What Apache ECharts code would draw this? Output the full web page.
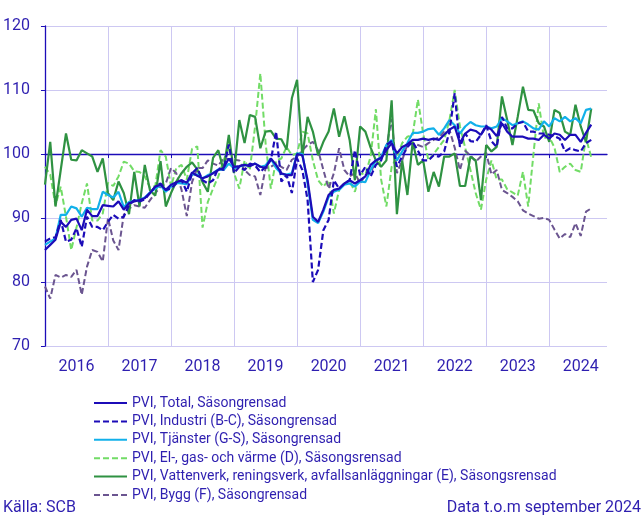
<!DOCTYPE html>
<html>
<head>
<meta charset="utf-8">
<script src="https://cdn.jsdelivr.net/npm/echarts@6/dist/echarts.min.js"></script>
<style>
html,body{margin:0;padding:0;background:#fff;}
#chart{width:644px;height:518px;}
</style>
</head>
<body>
<div id="chart"></div>
<script>
// Categories: Jan 2016 .. Dec 2024 (monthly)
const years = [2016, 2017, 2018, 2019, 2020, 2021, 2022, 2023, 2024];
const months = ['01','02','03','04','05','06','07','08','09','10','11','12'];
const categories = [];
years.forEach(y => months.forEach(m => categories.push(y + '-' + m)));

const seriesNames = [
  'PVI, Total, Säsongrensad',
  'PVI, Industri (B-C), Säsongrensad',
  'PVI, Tjänster (G-S), Säsongrensad',
  'PVI, El-, gas- och värme (D), Säsongsrensad',
  'PVI, Vattenverk, reningsverk, avfallsanläggningar (E), Säsongsrensad',
  'PVI, Bygg (F), Säsongrensad'
];

const total = [85,85.8,86.6,89.4,88.6,89.7,89.9,88.1,91.3,90.3,90.3,92,
  91.9,91.8,92.6,91.3,92.3,92.6,92.8,93.1,93.9,94.9,95.2,94.4,
  95.2,95.6,95.9,95.5,97.1,96.6,96.2,96.5,97,97.5,97.8,99.3,
  98,98.1,98.3,98.1,98.5,98,97.8,99.3,98.3,97,96.7,96.7,
  100,99.8,95.9,90.2,89.4,91.3,93.6,94.4,94.6,95.4,95.9,95.4,
  95.9,96.5,98.3,99,99.4,100.6,101.7,100.1,101.1,101.5,102.2,102.2,
  102.4,102.2,102.4,102.2,103,103.8,104.3,101.7,103.2,103.8,103.6,103,
  104.3,103.8,102.8,104.8,103.5,102.7,102.7,102.7,102.4,102.4,102.2,103,
  102.4,103.2,103,102.2,103,103,101.9,103.3,104.6];

const industri = [86.3,86.8,87,89.7,86.3,86.6,88.4,85.5,90.2,88.6,88.6,88.1,
  89.4,90.5,89.9,90.2,92,92.8,92.6,92.9,93.9,94.9,95.4,94.4,
  94.6,95.4,95.9,94.1,97,97.8,95.9,95.4,95.9,97.8,97.5,101.5,
  97,98,97.5,98.5,98.2,97.2,98,99,103.5,95.7,96.7,93.9,
  99.3,97.5,92.8,80,81.9,88.1,89.7,95.9,94.6,95.4,95.9,100.6,
  96.7,98,96.5,98.3,99,101.4,102,98,99.6,101.1,101.9,100.5,
  99,99,99.8,99.6,100.4,103.5,109.5,101.1,103.2,102,101.9,103,
  104.5,102,101.1,105.8,104,104,104.8,105,103.5,103.5,103.2,103.2,
  103,102.8,102.4,100.4,100.9,100.6,100.4,101.7,102.2];

const tjanster = [85.8,86.3,86.8,90.5,90.5,91.8,91.5,90.2,91.6,91.4,91.4,94.1,
  93.6,93.2,94.1,91.7,92.5,92.7,92.8,93.2,94,94.6,95.1,94.1,
  94.9,95.5,95.4,95.3,96.8,96.8,96.2,96.7,97,97.6,97.5,98.5,
  97.8,98,98.3,98.2,98.5,98,98.2,99.3,97.8,96.9,96.8,97,
  100.1,100,95.4,89.7,89.2,91,93.3,94.1,94.4,95.2,95.4,94.9,
  95.7,95.6,97.5,99,99.5,101.4,102.2,99,100.4,101.7,103.3,103.3,
  103.5,103.9,104,103,104,105.3,104.5,103.2,104.3,105,104.5,104.3,
  104.3,104,104.3,105.6,105.1,104.5,104.8,105.1,104.6,104,103.8,105.1,
  104.3,105.6,105.1,105.8,105.1,105.6,104.8,106.9,107.1];

const elgas = [98,96.8,92,94.9,90.2,85,88.5,92.3,95.4,89.6,89.6,90.7,
  95.5,95,96.5,98.8,98.5,97.3,97.2,96.5,94.7,95,100.6,99.6,
  94.9,97.8,98.3,96,100.8,101.2,88.5,92.5,94.6,96.5,99,101.1,
  97,94.6,99,97.5,104.3,112.6,101.7,94.6,99,99.3,101.1,99.8,
  100.1,103.5,103.2,99,95.9,94.9,95.9,90.7,94.4,95.4,95.8,94.1,
  97,96.8,99.6,107,96,91.8,98,99.5,101.7,102.7,103,108.5,
  103.2,99,100,101.1,102.2,105.3,110,104.3,101,97.5,93.9,91.3,
  96,99,96,96,94.5,94,93.5,97.2,91.8,100,107.9,102.5,
  102.7,101,97.2,98,98.5,97.5,97.2,102.5,99.5];

const vatten = [95.2,101.9,91.8,97.5,103.2,99.1,99,100.6,100.1,99.6,97.2,99.3,
  93.9,92.8,95.7,93.9,90.6,97.2,91.8,98.3,94.3,93.5,98.9,91.8,
  93.9,95.7,97,98,98.7,97.6,95.6,94.1,99.4,100.6,97.5,103,
  97,105.3,101.7,106.1,105.8,100.9,103.5,103.6,102.4,102.3,100.7,108.7,
  111.6,99.6,105.8,103.5,99.8,101.9,103.5,107.1,102.7,105.9,102.2,95.9,
  104.3,103.5,101,99,98,99,108.4,90.6,99,93.6,101.9,98.3,
  99,94.1,97.2,94.9,99.6,99.6,100.1,95,95,99.6,99,92.8,
  101.4,100.4,101.1,109,105.3,101.4,105.8,110.5,106.9,106.8,104.8,104.3,
  101.9,106.9,106.4,103.5,103,107.7,104.3,101.9,107.1];

const bygg = [79.3,77.4,81.1,80.7,81.1,80.8,81.9,78,82.4,85,84.7,83.2,
  90,86.5,85,90.5,91.5,92,91.8,91.6,92.8,93.9,94.9,95.4,
  97.8,97,94.4,90.3,95.6,97.8,97.8,99,98.5,98.2,99.3,99.2,
  99.1,99,97.5,96.7,96.5,93.6,97.8,98,98.5,98,97.5,99.1,
  99.6,100.6,101.4,101.9,100.6,97.5,94.6,97,100.9,97.5,96.5,97,
  95.4,96.7,97,99,99.3,101.1,105.5,97,99,101.5,101.7,101.4,
  101.1,101.7,102.2,102.6,103.5,103.8,101,97.5,100.5,99.8,98.8,99.6,
  100.2,96.8,97.5,94.4,93.9,93.3,92.6,91.2,90.7,90.3,89.9,90,
  89.7,88.2,86.8,87.5,87,89.2,87.2,91,91.5];

const yTicks = [70, 80, 90, 100, 110, 120];

const textColor = '#2e1fb0';
const colors = ['#1c0cb8', '#1c0cb8', '#12b0ea', '#72dc66', '#2f9242', '#6b5590'];
const dash = [6, 3];

const chart = echarts.init(document.getElementById('chart'), null, {renderer: 'canvas'});

function mkSeries(name, data, color, width, dashed, z) {
  return {
    name: name,
    type: 'line',
    data: data,
    symbol: 'none',
    showSymbol: false,
    z: z,
    lineStyle: {color: color, width: width, type: dashed ? dash : 'solid'},
    itemStyle: {color: color},
    emphasis: {disabled: true},
    animation: false
  };
}

const option = {
  animation: false,
  textStyle: {fontFamily: 'Roboto, sans-serif', color: textColor},
  grid: {left: 44, right: 37, top: 26, bottom: 172, containLabel: false},
  legend: {
    orient: 'vertical',
    left: 93,
    top: 396,
    padding: 0,
    itemWidth: 33,
    itemHeight: 14,
    itemGap: 4.4,
    itemStyle: {opacity: 0},
    textStyle: {fontSize: 14, color: textColor, fontFamily: 'Roboto, sans-serif'},
    data: seriesNames
  },
  xAxis: [{
    type: 'category',
    data: categories,
    boundaryGap: false,
    axisLine: {show: false},
    axisTick: {show: false},
    axisLabel: {
      interval: (i) => i % 12 === 6,
      formatter: (v) => v.slice(0, 4),
      color: textColor,
      fontSize: 16,
      margin: 13,
      fontFamily: 'Roboto, sans-serif'
    },
    splitLine: {
      show: true,
      interval: (i) => i % 12 === 0,
      lineStyle: {color: '#cdc8f2', width: 1}
    }
  }, {
    type: 'category',
    data: categories,
    boundaryGap: false,
    position: 'bottom',
    offset: -192,
    axisLine: {show: true, lineStyle: {color: '#1c0cb8', width: 1.3}},
    axisTick: {show: true, interval: (i) => i % 12 === 0, length: 4, lineStyle: {color: '#1c0cb8'}},
    axisLabel: {show: false},
    splitLine: {show: false}
  }],
  yAxis: {
    type: 'value',
    min: 70,
    max: 120,
    interval: 10,
    axisLine: {show: true, lineStyle: {color: '#1c0cb8', width: 1.3}},
    axisTick: {show: true, length: 4, lineStyle: {color: '#1c0cb8'}},
    axisLabel: {
      color: textColor,
      fontSize: 16,
      margin: 15,
      fontFamily: 'Roboto, sans-serif',
      formatter: (v) => yTicks.indexOf(v) >= 0 ? String(v) : ''
    },
    splitLine: {show: true, lineStyle: {color: '#cdc8f2', width: 1}}
  },
  series: [
    mkSeries(seriesNames[0], total, colors[0], 2.2, false, 6),
    mkSeries(seriesNames[1], industri, colors[1], 2.2, true, 5),
    mkSeries(seriesNames[2], tjanster, colors[2], 2.2, false, 4),
    mkSeries(seriesNames[3], elgas, colors[3], 2, true, 2),
    mkSeries(seriesNames[4], vatten, colors[4], 2.2, false, 3),
    mkSeries(seriesNames[5], bygg, colors[5], 2, true, 2)
  ],
  graphic: [
    {type: 'text', left: 3, top: 500, style: {text: 'Källa: SCB', fill: textColor, font: '16px Roboto, sans-serif'}},
    {type: 'text', right: 3, top: 500, style: {text: 'Data t.o.m september 2024', fill: textColor, font: '16px Roboto, sans-serif'}}
  ]
};

chart.setOption(option);
</script>
</body>
</html>
